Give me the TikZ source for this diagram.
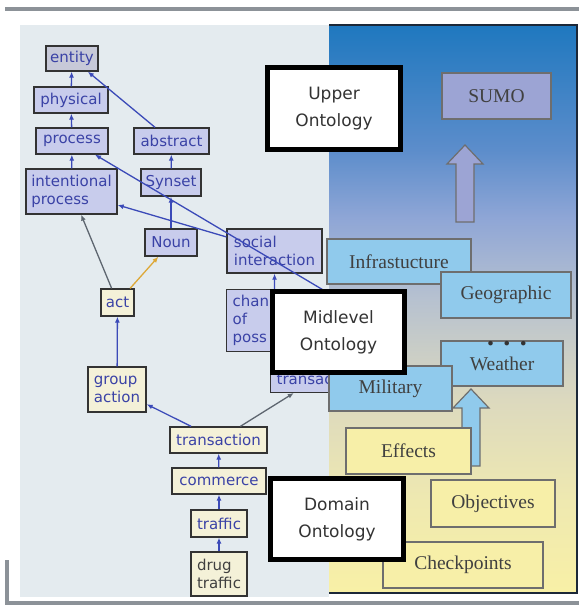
\documentclass[tikz,border=0pt]{standalone}
\usepackage{fontspec}
\setmainfont{Liberation Serif}
\newfontfamily\verdana{DejaVu Sans}
\usetikzlibrary{arrows.meta}

\definecolor{fondgauche}{HTML}{E4EBEF}
\definecolor{bleuhaut}{HTML}{1F78BF}
\definecolor{bleumid}{HTML}{5C8DCB}
\definecolor{lavmid}{HTML}{8FA6D6}
\definecolor{grismid}{HTML}{B6C1D0}
\definecolor{beigemid}{HTML}{DCD9BE}
\definecolor{jaunemid}{HTML}{EFE9B0}
\definecolor{jaunebas}{HTML}{F8F0A6}
\definecolor{lavnoeud}{HTML}{C8CCEC}
\definecolor{grisnoeud}{HTML}{C7C9D8}
\definecolor{cremenoeud}{HTML}{F4F1D8}
\definecolor{textebleu}{HTML}{3A42A6}
\definecolor{flechebleu}{HTML}{3B4AB8}
\definecolor{flechegris}{HTML}{5E6670}
\definecolor{flecheor}{HTML}{DDA838}
\definecolor{sumo}{HTML}{9CA4D4}
\definecolor{ciel}{HTML}{90CAEC}
\definecolor{paille}{HTML}{F7EFA8}
\definecolor{bordgris}{HTML}{6E6E6E}
\definecolor{cadregris}{HTML}{8C9298}
\definecolor{marine}{HTML}{1C2838}

\pgfdeclareverticalshading{panneau}{100bp}{color(0bp)=(jaunebas); color(25bp)=(jaunebas); color(33bp)=(jaunemid); color(42bp)=(beigemid); color(51bp)=(grismid); color(58bp)=(lavmid); color(64bp)=(bleumid); color(75bp)=(bleuhaut); color(100bp)=(bleuhaut)}

\begin{document}
\begin{tikzpicture}[x=1pt,y=-1pt,
    concept/.style={draw=black!80, line width=1.3pt, fill=lavnoeud, text=textebleu,
      font=\verdana\fontsize{15}{18}\selectfont, inner sep=0pt, align=left},
    creme/.style={concept, fill=cremenoeud},
    lien/.style={draw=flechebleu, line width=1.3pt, -{Latex[length=6pt,width=5pt]}},
    bloc/.style={draw=bordgris, line width=1.2pt, inner sep=0pt, text=black!75,
      font=\fontsize{19.5}{22}\selectfont},
    niveau/.style={draw=black, line width=5pt, fill=white, inner sep=0pt, align=center,
      text=black!80, font=\verdana\fontsize{17}{27}\selectfont},
    cadre/.style={draw=cadregris, line width=4pt}]
  \useasboundingbox (0,0) rectangle (579,606);
  % fonds
  \draw[cadre] (5,9) -- (579,9);
  \draw[cadre] (7,560) -- (7,603) -- (579,603);
  \fill[fondgauche] (20,25) rectangle (329,597);
  \shade[shading=panneau] (329,25) rectangle (577,593);
  \draw[marine, line width=1.5pt] (329,25) -- (577,25) -- (577,593) -- (329,593);

  % graphe des concepts
  \node[concept, fill=grisnoeud, minimum width=52pt, minimum height=25pt] (entity) at (72,58.5) {entity};
  \node[concept, minimum width=74pt, minimum height=26pt] (physical) at (71,100) {physical};
  \node[concept, minimum width=72pt, minimum height=26pt] (process) at (72,141) {process};
  \node[concept, minimum width=75pt, minimum height=26pt] (abstract) at (171.5,141) {abstract};
  \node[concept, minimum width=91pt, minimum height=45pt] (intproc) at (71.5,191.5) {intentional\\process};
  \node[concept, minimum width=60pt, minimum height=27pt] (synset) at (171,182.5) {Synset};
  \node[concept, minimum width=52pt, minimum height=27pt] (noun) at (171,242.5) {Noun};
  \node[concept, minimum width=95pt, minimum height=44pt] (social) at (274.5,251) {social\\interaction};
  \node[concept, anchor=north west, text width=84pt, inner xsep=6pt, minimum height=62pt] (chan) at (226,289) {chan\\of\\poss};
  \node[concept, anchor=south west, text width=78pt, inner xsep=6pt, minimum height=26pt] (transac) at (270,393) {transac};
  \node[creme, minimum width=33pt, minimum height=27pt] (act) at (117.5,302.5) {act};
  \node[creme, minimum width=58pt, minimum height=45pt] (group) at (117,389.5) {group\\action};
  \node[creme, minimum width=97pt, minimum height=26pt] (transaction) at (218.5,440) {transaction};
  \node[creme, minimum width=94pt, minimum height=26pt] (commerce) at (219,481) {commerce};
  \node[creme, minimum width=56pt, minimum height=27pt] (traffic) at (219,523.5) {traffic};
  \node[creme, text=black!75, minimum width=56pt, minimum height=44pt] (drug) at (219,574) {drug\\traffic};
  \coordinate (cache) at (330,294); % sous le cadre Midlevel

  \draw[lien] (physical) -- (entity);
  \draw[lien] (abstract) -- (entity);
  \draw[lien] (process) -- (physical);
  \draw[lien] (intproc) -- (process);
  \draw[lien] (synset) -- (abstract);
  \draw[lien] (noun) -- (synset);
  \draw[lien] (cache) -- (process);
  \draw[lien] (social) -- (intproc);
  \draw[lien] (chan) -- (social);
  \draw[lien, draw=flechegris] (act) -- (intproc);
  \draw[lien, draw=flecheor] (act) -- (noun);
  \draw[lien] (group) -- (act);
  \draw[lien] (transaction) -- (group);
  \draw[lien, draw=flechegris] (transaction) -- (transac);
  \draw[lien] (commerce) -- (transaction);
  \draw[lien] (traffic) -- (commerce);
  \draw[lien] (drug) -- (traffic);

  % couches a droite
  \node[bloc, fill=sumo, minimum width=109pt, minimum height=46pt] (sumo) at (496.5,96) {SUMO};
  \filldraw[fill=sumo, draw=bordgris, line width=1.2pt] (456,222) -- (456,164) -- (447,164) -- (465,145)
    -- (483,164) -- (474,164) -- (474,222) -- cycle;
  \node[bloc, fill=ciel, minimum width=144pt, minimum height=45pt] (infra) at (399,261.5) {Infrastucture};
  \node[bloc, fill=ciel, minimum width=130pt, minimum height=46pt] (geo) at (506,295) {Geographic};
  \node[bloc, fill=ciel, minimum width=122pt, minimum height=45pt] (weather) at (502,363.5) {Weather};
  \node[anchor=base, inner sep=0pt, text=black!80, font=\fontsize{28}{28}\selectfont\bfseries] (points) at (507,345) {. . .};
  \node[bloc, fill=ciel, minimum width=123pt, minimum height=45pt] (military) at (390.5,388.5) {Military};
  \filldraw[fill=ciel, draw=bordgris, line width=1.2pt] (462,466) -- (462,408) -- (453,408) -- (471,389)
    -- (489,408) -- (480,408) -- (480,466) -- cycle;
  \node[bloc, fill=paille, minimum width=125pt, minimum height=46pt] (effects) at (408.5,451) {Effects};
  \node[bloc, fill=paille, minimum width=124pt, minimum height=47pt] (objectives) at (493,503.5) {Objectives};
  \node[bloc, fill=paille, minimum width=160pt, minimum height=46pt] (checkpoints) at (463,565) {Checkpoints};

  % cadres des niveaux
  \node[niveau, minimum width=133pt, minimum height=82pt] (upper) at (334,108.5) {Upper\\Ontology};
  \node[niveau, minimum width=132pt, minimum height=81pt] (mid) at (338.5,332) {Midlevel\\Ontology};
  \node[niveau, minimum width=133pt, minimum height=81pt] (domain) at (337,519) {Domain\\Ontology};
\end{tikzpicture}
\end{document}
